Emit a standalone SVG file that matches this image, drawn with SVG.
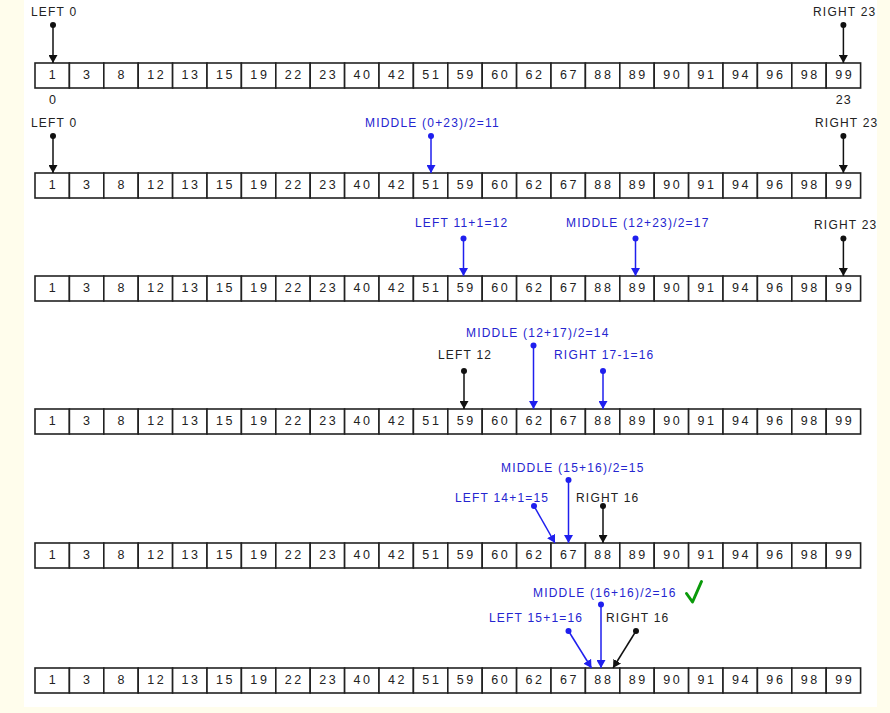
<svg xmlns="http://www.w3.org/2000/svg" width="890" height="713" viewBox="0 0 890 713">
<defs>
<style>
.c{fill:#fff;stroke:#222;stroke-width:1.6}
.n{font-family:"Liberation Sans",Arial,sans-serif;font-size:12.5px;letter-spacing:2.6px;fill:#222;text-anchor:middle}
.lb{font-family:"Liberation Sans",Arial,sans-serif;font-size:12px;letter-spacing:1.2px;fill:#222}
.lb.b{fill:#2525d0}
.k{stroke:#111;stroke-width:1.5;fill:none;marker-end:url(#ak)}
.u{stroke:#1f1fee;stroke-width:1.5;fill:none;marker-end:url(#au)}
.dk{fill:#111}
.du{fill:#1f1fee}
</style>
<marker id="ak" markerUnits="userSpaceOnUse" markerWidth="8" markerHeight="9" refX="8" refY="4.5" orient="auto"><path d="M0,0 L8,4.5 L0,9 z" fill="#111"/></marker>
<marker id="au" markerUnits="userSpaceOnUse" markerWidth="8" markerHeight="9" refX="8" refY="4.5" orient="auto"><path d="M0,0 L8,4.5 L0,9 z" fill="#1f1fee"/></marker>
</defs>
<rect x="0" y="0" width="890" height="713" fill="#fffdec"/>
<rect x="24" y="0" width="853" height="707" fill="#ffffff"/>

<g id="row1">
<rect class="c" x="35" y="63" width="34.4" height="25"/><rect class="c" x="69.4" y="63" width="34.4" height="25"/><rect class="c" x="103.8" y="63" width="34.4" height="25"/><rect class="c" x="138.2" y="63" width="34.4" height="25"/><rect class="c" x="172.6" y="63" width="34.4" height="25"/><rect class="c" x="207" y="63" width="34.4" height="25"/><rect class="c" x="241.4" y="63" width="34.4" height="25"/><rect class="c" x="275.8" y="63" width="34.4" height="25"/><rect class="c" x="310.2" y="63" width="34.4" height="25"/><rect class="c" x="344.6" y="63" width="34.4" height="25"/><rect class="c" x="379" y="63" width="34.4" height="25"/><rect class="c" x="413.4" y="63" width="34.4" height="25"/><rect class="c" x="447.8" y="63" width="34.4" height="25"/><rect class="c" x="482.2" y="63" width="34.4" height="25"/><rect class="c" x="516.6" y="63" width="34.4" height="25"/><rect class="c" x="551" y="63" width="34.4" height="25"/><rect class="c" x="585.4" y="63" width="34.4" height="25"/><rect class="c" x="619.8" y="63" width="34.4" height="25"/><rect class="c" x="654.2" y="63" width="34.4" height="25"/><rect class="c" x="688.6" y="63" width="34.4" height="25"/><rect class="c" x="723" y="63" width="34.4" height="25"/><rect class="c" x="757.4" y="63" width="34.4" height="25"/><rect class="c" x="791.8" y="63" width="34.4" height="25"/><rect class="c" x="826.2" y="63" width="34.4" height="25"/>
<text class="n" y="79"><tspan x="53.5">1</tspan><tspan x="87.9">3</tspan><tspan x="122.3">8</tspan><tspan x="156.7">12</tspan><tspan x="191.1">13</tspan><tspan x="225.5">15</tspan><tspan x="259.9">19</tspan><tspan x="294.3">22</tspan><tspan x="328.7">23</tspan><tspan x="363.1">40</tspan><tspan x="397.5">42</tspan><tspan x="431.9">51</tspan><tspan x="466.3">59</tspan><tspan x="500.7">60</tspan><tspan x="535.1">62</tspan><tspan x="569.5">67</tspan><tspan x="603.9">88</tspan><tspan x="638.3">89</tspan><tspan x="672.7">90</tspan><tspan x="707.1">91</tspan><tspan x="741.5">94</tspan><tspan x="775.9">96</tspan><tspan x="810.3">98</tspan><tspan x="844.7">99</tspan></text>
<text class="n" y="104" style="letter-spacing:1.2px"><tspan x="53">0</tspan><tspan x="843.8">23</tspan></text>
</g>

<g id="row2">
<rect class="c" x="35" y="173" width="34.4" height="25"/><rect class="c" x="69.4" y="173" width="34.4" height="25"/><rect class="c" x="103.8" y="173" width="34.4" height="25"/><rect class="c" x="138.2" y="173" width="34.4" height="25"/><rect class="c" x="172.6" y="173" width="34.4" height="25"/><rect class="c" x="207" y="173" width="34.4" height="25"/><rect class="c" x="241.4" y="173" width="34.4" height="25"/><rect class="c" x="275.8" y="173" width="34.4" height="25"/><rect class="c" x="310.2" y="173" width="34.4" height="25"/><rect class="c" x="344.6" y="173" width="34.4" height="25"/><rect class="c" x="379" y="173" width="34.4" height="25"/><rect class="c" x="413.4" y="173" width="34.4" height="25"/><rect class="c" x="447.8" y="173" width="34.4" height="25"/><rect class="c" x="482.2" y="173" width="34.4" height="25"/><rect class="c" x="516.6" y="173" width="34.4" height="25"/><rect class="c" x="551" y="173" width="34.4" height="25"/><rect class="c" x="585.4" y="173" width="34.4" height="25"/><rect class="c" x="619.8" y="173" width="34.4" height="25"/><rect class="c" x="654.2" y="173" width="34.4" height="25"/><rect class="c" x="688.6" y="173" width="34.4" height="25"/><rect class="c" x="723" y="173" width="34.4" height="25"/><rect class="c" x="757.4" y="173" width="34.4" height="25"/><rect class="c" x="791.8" y="173" width="34.4" height="25"/><rect class="c" x="826.2" y="173" width="34.4" height="25"/>
<text class="n" y="189"><tspan x="53.5">1</tspan><tspan x="87.9">3</tspan><tspan x="122.3">8</tspan><tspan x="156.7">12</tspan><tspan x="191.1">13</tspan><tspan x="225.5">15</tspan><tspan x="259.9">19</tspan><tspan x="294.3">22</tspan><tspan x="328.7">23</tspan><tspan x="363.1">40</tspan><tspan x="397.5">42</tspan><tspan x="431.9">51</tspan><tspan x="466.3">59</tspan><tspan x="500.7">60</tspan><tspan x="535.1">62</tspan><tspan x="569.5">67</tspan><tspan x="603.9">88</tspan><tspan x="638.3">89</tspan><tspan x="672.7">90</tspan><tspan x="707.1">91</tspan><tspan x="741.5">94</tspan><tspan x="775.9">96</tspan><tspan x="810.3">98</tspan><tspan x="844.7">99</tspan></text>
</g>

<g id="row3">
<rect class="c" x="35" y="276" width="34.4" height="25"/><rect class="c" x="69.4" y="276" width="34.4" height="25"/><rect class="c" x="103.8" y="276" width="34.4" height="25"/><rect class="c" x="138.2" y="276" width="34.4" height="25"/><rect class="c" x="172.6" y="276" width="34.4" height="25"/><rect class="c" x="207" y="276" width="34.4" height="25"/><rect class="c" x="241.4" y="276" width="34.4" height="25"/><rect class="c" x="275.8" y="276" width="34.4" height="25"/><rect class="c" x="310.2" y="276" width="34.4" height="25"/><rect class="c" x="344.6" y="276" width="34.4" height="25"/><rect class="c" x="379" y="276" width="34.4" height="25"/><rect class="c" x="413.4" y="276" width="34.4" height="25"/><rect class="c" x="447.8" y="276" width="34.4" height="25"/><rect class="c" x="482.2" y="276" width="34.4" height="25"/><rect class="c" x="516.6" y="276" width="34.4" height="25"/><rect class="c" x="551" y="276" width="34.4" height="25"/><rect class="c" x="585.4" y="276" width="34.4" height="25"/><rect class="c" x="619.8" y="276" width="34.4" height="25"/><rect class="c" x="654.2" y="276" width="34.4" height="25"/><rect class="c" x="688.6" y="276" width="34.4" height="25"/><rect class="c" x="723" y="276" width="34.4" height="25"/><rect class="c" x="757.4" y="276" width="34.4" height="25"/><rect class="c" x="791.8" y="276" width="34.4" height="25"/><rect class="c" x="826.2" y="276" width="34.4" height="25"/>
<text class="n" y="292"><tspan x="53.5">1</tspan><tspan x="87.9">3</tspan><tspan x="122.3">8</tspan><tspan x="156.7">12</tspan><tspan x="191.1">13</tspan><tspan x="225.5">15</tspan><tspan x="259.9">19</tspan><tspan x="294.3">22</tspan><tspan x="328.7">23</tspan><tspan x="363.1">40</tspan><tspan x="397.5">42</tspan><tspan x="431.9">51</tspan><tspan x="466.3">59</tspan><tspan x="500.7">60</tspan><tspan x="535.1">62</tspan><tspan x="569.5">67</tspan><tspan x="603.9">88</tspan><tspan x="638.3">89</tspan><tspan x="672.7">90</tspan><tspan x="707.1">91</tspan><tspan x="741.5">94</tspan><tspan x="775.9">96</tspan><tspan x="810.3">98</tspan><tspan x="844.7">99</tspan></text>
</g>

<g id="row4">
<rect class="c" x="35" y="409" width="34.4" height="25"/><rect class="c" x="69.4" y="409" width="34.4" height="25"/><rect class="c" x="103.8" y="409" width="34.4" height="25"/><rect class="c" x="138.2" y="409" width="34.4" height="25"/><rect class="c" x="172.6" y="409" width="34.4" height="25"/><rect class="c" x="207" y="409" width="34.4" height="25"/><rect class="c" x="241.4" y="409" width="34.4" height="25"/><rect class="c" x="275.8" y="409" width="34.4" height="25"/><rect class="c" x="310.2" y="409" width="34.4" height="25"/><rect class="c" x="344.6" y="409" width="34.4" height="25"/><rect class="c" x="379" y="409" width="34.4" height="25"/><rect class="c" x="413.4" y="409" width="34.4" height="25"/><rect class="c" x="447.8" y="409" width="34.4" height="25"/><rect class="c" x="482.2" y="409" width="34.4" height="25"/><rect class="c" x="516.6" y="409" width="34.4" height="25"/><rect class="c" x="551" y="409" width="34.4" height="25"/><rect class="c" x="585.4" y="409" width="34.4" height="25"/><rect class="c" x="619.8" y="409" width="34.4" height="25"/><rect class="c" x="654.2" y="409" width="34.4" height="25"/><rect class="c" x="688.6" y="409" width="34.4" height="25"/><rect class="c" x="723" y="409" width="34.4" height="25"/><rect class="c" x="757.4" y="409" width="34.4" height="25"/><rect class="c" x="791.8" y="409" width="34.4" height="25"/><rect class="c" x="826.2" y="409" width="34.4" height="25"/>
<text class="n" y="425"><tspan x="53.5">1</tspan><tspan x="87.9">3</tspan><tspan x="122.3">8</tspan><tspan x="156.7">12</tspan><tspan x="191.1">13</tspan><tspan x="225.5">15</tspan><tspan x="259.9">19</tspan><tspan x="294.3">22</tspan><tspan x="328.7">23</tspan><tspan x="363.1">40</tspan><tspan x="397.5">42</tspan><tspan x="431.9">51</tspan><tspan x="466.3">59</tspan><tspan x="500.7">60</tspan><tspan x="535.1">62</tspan><tspan x="569.5">67</tspan><tspan x="603.9">88</tspan><tspan x="638.3">89</tspan><tspan x="672.7">90</tspan><tspan x="707.1">91</tspan><tspan x="741.5">94</tspan><tspan x="775.9">96</tspan><tspan x="810.3">98</tspan><tspan x="844.7">99</tspan></text>
</g>

<g id="row5">
<rect class="c" x="35" y="543" width="34.4" height="25"/><rect class="c" x="69.4" y="543" width="34.4" height="25"/><rect class="c" x="103.8" y="543" width="34.4" height="25"/><rect class="c" x="138.2" y="543" width="34.4" height="25"/><rect class="c" x="172.6" y="543" width="34.4" height="25"/><rect class="c" x="207" y="543" width="34.4" height="25"/><rect class="c" x="241.4" y="543" width="34.4" height="25"/><rect class="c" x="275.8" y="543" width="34.4" height="25"/><rect class="c" x="310.2" y="543" width="34.4" height="25"/><rect class="c" x="344.6" y="543" width="34.4" height="25"/><rect class="c" x="379" y="543" width="34.4" height="25"/><rect class="c" x="413.4" y="543" width="34.4" height="25"/><rect class="c" x="447.8" y="543" width="34.4" height="25"/><rect class="c" x="482.2" y="543" width="34.4" height="25"/><rect class="c" x="516.6" y="543" width="34.4" height="25"/><rect class="c" x="551" y="543" width="34.4" height="25"/><rect class="c" x="585.4" y="543" width="34.4" height="25"/><rect class="c" x="619.8" y="543" width="34.4" height="25"/><rect class="c" x="654.2" y="543" width="34.4" height="25"/><rect class="c" x="688.6" y="543" width="34.4" height="25"/><rect class="c" x="723" y="543" width="34.4" height="25"/><rect class="c" x="757.4" y="543" width="34.4" height="25"/><rect class="c" x="791.8" y="543" width="34.4" height="25"/><rect class="c" x="826.2" y="543" width="34.4" height="25"/>
<text class="n" y="559"><tspan x="53.5">1</tspan><tspan x="87.9">3</tspan><tspan x="122.3">8</tspan><tspan x="156.7">12</tspan><tspan x="191.1">13</tspan><tspan x="225.5">15</tspan><tspan x="259.9">19</tspan><tspan x="294.3">22</tspan><tspan x="328.7">23</tspan><tspan x="363.1">40</tspan><tspan x="397.5">42</tspan><tspan x="431.9">51</tspan><tspan x="466.3">59</tspan><tspan x="500.7">60</tspan><tspan x="535.1">62</tspan><tspan x="569.5">67</tspan><tspan x="603.9">88</tspan><tspan x="638.3">89</tspan><tspan x="672.7">90</tspan><tspan x="707.1">91</tspan><tspan x="741.5">94</tspan><tspan x="775.9">96</tspan><tspan x="810.3">98</tspan><tspan x="844.7">99</tspan></text>
</g>

<g id="row6">
<rect class="c" x="35" y="668" width="34.4" height="25"/><rect class="c" x="69.4" y="668" width="34.4" height="25"/><rect class="c" x="103.8" y="668" width="34.4" height="25"/><rect class="c" x="138.2" y="668" width="34.4" height="25"/><rect class="c" x="172.6" y="668" width="34.4" height="25"/><rect class="c" x="207" y="668" width="34.4" height="25"/><rect class="c" x="241.4" y="668" width="34.4" height="25"/><rect class="c" x="275.8" y="668" width="34.4" height="25"/><rect class="c" x="310.2" y="668" width="34.4" height="25"/><rect class="c" x="344.6" y="668" width="34.4" height="25"/><rect class="c" x="379" y="668" width="34.4" height="25"/><rect class="c" x="413.4" y="668" width="34.4" height="25"/><rect class="c" x="447.8" y="668" width="34.4" height="25"/><rect class="c" x="482.2" y="668" width="34.4" height="25"/><rect class="c" x="516.6" y="668" width="34.4" height="25"/><rect class="c" x="551" y="668" width="34.4" height="25"/><rect class="c" x="585.4" y="668" width="34.4" height="25"/><rect class="c" x="619.8" y="668" width="34.4" height="25"/><rect class="c" x="654.2" y="668" width="34.4" height="25"/><rect class="c" x="688.6" y="668" width="34.4" height="25"/><rect class="c" x="723" y="668" width="34.4" height="25"/><rect class="c" x="757.4" y="668" width="34.4" height="25"/><rect class="c" x="791.8" y="668" width="34.4" height="25"/><rect class="c" x="826.2" y="668" width="34.4" height="25"/>
<text class="n" y="684"><tspan x="53.5">1</tspan><tspan x="87.9">3</tspan><tspan x="122.3">8</tspan><tspan x="156.7">12</tspan><tspan x="191.1">13</tspan><tspan x="225.5">15</tspan><tspan x="259.9">19</tspan><tspan x="294.3">22</tspan><tspan x="328.7">23</tspan><tspan x="363.1">40</tspan><tspan x="397.5">42</tspan><tspan x="431.9">51</tspan><tspan x="466.3">59</tspan><tspan x="500.7">60</tspan><tspan x="535.1">62</tspan><tspan x="569.5">67</tspan><tspan x="603.9">88</tspan><tspan x="638.3">89</tspan><tspan x="672.7">90</tspan><tspan x="707.1">91</tspan><tspan x="741.5">94</tspan><tspan x="775.9">96</tspan><tspan x="810.3">98</tspan><tspan x="844.7">99</tspan></text>
</g>

<g id="p1-left"><text class="lb" x="31" y="16">LEFT 0</text><circle class="dk" cx="53" cy="25" r="3"/></g>
<g id="p1-right"><text class="lb" x="813" y="16">RIGHT 23</text><circle class="dk" cx="843.4" cy="25" r="3"/></g>
<g id="p2-left"><text class="lb" x="31" y="127">LEFT 0</text><circle class="dk" cx="53" cy="136" r="3"/></g>
<g id="p2-middle"><text class="lb b" x="365" y="127">MIDDLE (0+23)/2=11</text><circle class="du" cx="431" cy="136" r="3"/></g>
<g id="p2-right"><text class="lb" x="815" y="127">RIGHT 23</text><circle class="dk" cx="843.4" cy="136" r="3"/></g>
<g id="p3-left"><text class="lb b" x="415" y="227">LEFT 11+1=12</text><circle class="du" cx="463.5" cy="238.5" r="3"/></g>
<g id="p3-middle"><text class="lb b" x="566" y="227">MIDDLE (12+23)/2=17</text><circle class="du" cx="635.5" cy="238.5" r="3"/></g>
<g id="p3-right"><text class="lb" x="814" y="229">RIGHT 23</text><circle class="dk" cx="843.4" cy="238.5" r="3"/></g>
<g id="p4-middle"><text class="lb b" x="466" y="337">MIDDLE (12+17)/2=14</text><circle class="du" cx="533.5" cy="345.5" r="3"/></g>
<g id="p4-left"><text class="lb" x="438" y="359">LEFT 12</text><circle class="dk" cx="464" cy="371" r="3"/></g>
<g id="p4-right"><text class="lb b" x="554" y="359">RIGHT 17-1=16</text><circle class="du" cx="603" cy="371" r="3"/></g>
<g id="p5-middle"><text class="lb b" x="501" y="472">MIDDLE (15+16)/2=15</text><circle class="du" cx="568.5" cy="480" r="3"/></g>
<g id="p5-left"><text class="lb b" x="455" y="502">LEFT 14+1=15</text><circle class="du" cx="534" cy="506" r="3"/></g>
<g id="p5-right"><text class="lb" x="576" y="502">RIGHT 16</text><circle class="dk" cx="603" cy="506" r="3"/></g>
<g id="p6-middle"><text class="lb b" x="533" y="597">MIDDLE (16+16)/2=16</text><circle class="du" cx="601" cy="604.5" r="3"/></g>
<g id="p6-left"><text class="lb b" x="489" y="622">LEFT 15+1=16</text><circle class="du" cx="568.5" cy="631" r="3"/></g>
<g id="p6-right"><text class="lb" x="606" y="622">RIGHT 16</text><circle class="dk" cx="636" cy="631" r="3"/></g>
<g id="check"><path d="M686.5,593.5 L692.5,602 L701.5,581.5" fill="none" stroke="#0a9a0a" stroke-width="3" stroke-linecap="round" stroke-linejoin="round"/></g>

<g id="connectors">
<line class="k" x1="53" y1="25" x2="53" y2="63"/>
<line class="k" x1="843.4" y1="25" x2="843.4" y2="63"/>
<line class="k" x1="53" y1="136" x2="53" y2="173"/>
<line class="u" x1="431" y1="136" x2="431" y2="173"/>
<line class="k" x1="843.4" y1="136" x2="843.4" y2="173"/>
<line class="u" x1="463.5" y1="238.5" x2="463.5" y2="276"/>
<line class="u" x1="635.5" y1="238.5" x2="635.5" y2="276"/>
<line class="k" x1="843.4" y1="238.5" x2="843.4" y2="276"/>
<line class="u" x1="533.5" y1="345.5" x2="533.5" y2="409"/>
<line class="k" x1="464" y1="371" x2="464" y2="409"/>
<line class="u" x1="603" y1="371" x2="603" y2="409"/>
<line class="u" x1="568.5" y1="480" x2="568.5" y2="543"/>
<line class="u" x1="534" y1="506" x2="555" y2="543"/>
<line class="k" x1="603" y1="506" x2="603" y2="543"/>
<line class="u" x1="601" y1="604.5" x2="601" y2="668"/>
<line class="u" x1="568.5" y1="631" x2="591.5" y2="668"/>
<line class="k" x1="636" y1="631" x2="613" y2="668"/>
</g>
</svg>
